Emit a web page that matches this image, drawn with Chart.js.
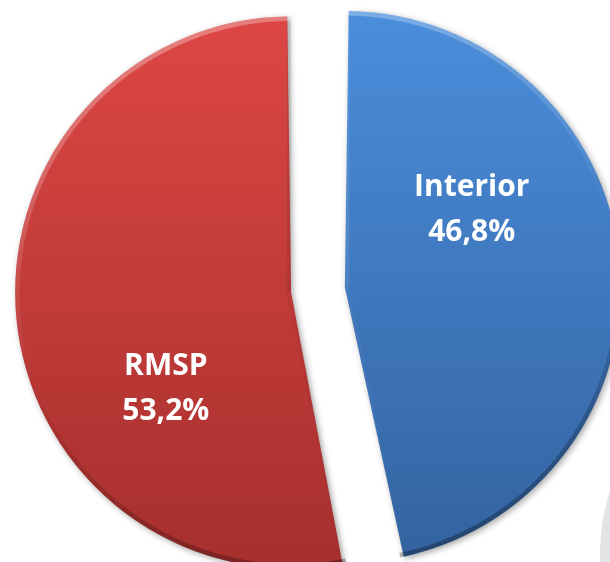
<!DOCTYPE html>
<html>
<head>
<meta charset="utf-8">
<script src="https://cdn.jsdelivr.net/npm/chart.js@4/dist/chart.umd.min.js"></script>
<style>
  html, body { margin: 0; padding: 0; background: #ffffff; }
  #wrap { width: 610px; height: 562px; position: relative; }
</style>
</head>
<body>
<div id="wrap"><canvas id="chart"></canvas></div>
<script>
// data
const regions = ['Interior', 'RMSP'];
const shares = [46.8, 53.2];
const shareLabels = ['46,8%', '53,2%'];

// colours: top / bottom of the vertical shading
const topColors = ['#4b8edc', '#dd4745'];
const bottomColors = ['#33629f', '#a52f2d'];

function sliceFill(context) {
  const chart = context.chart;
  const i = context.dataIndex;
  const g = chart.ctx.createLinearGradient(0, 10, 0, 575);
  g.addColorStop(0, topColors[i]);
  g.addColorStop(1, bottomColors[i]);
  return g;
}

// light grey shape peeking in at the lower right corner
const cornerShape = {
  id: 'cornerShape',
  beforeDraw(chart) {
    const ctx = chart.ctx;
    ctx.save();
    ctx.fillStyle = '#e3e4e6';
    ctx.beginPath();
    ctx.arc(816, 555, 216, 0, Math.PI * 2);
    ctx.fill();
    ctx.restore();
  }
};

// where the arc element really draws an exploded slice
function sliceGeom(arc) {
  const t = (arc.options.offset || 0) / 4;
  const circ = arc.endAngle - arc.startAngle;
  const fix = 1 - Math.sin(Math.min(Math.PI, circ));
  const half = (arc.startAngle + arc.endAngle) / 2;
  return {
    x: arc.x + Math.cos(half) * t,
    y: arc.y + Math.sin(half) * t,
    r: arc.outerRadius + t * fix,
    start: arc.startAngle,
    end: arc.endAngle
  };
}

const LIGHT = { x: -0.29, y: -0.96 };

function edgeColor(nx, ny) {
  const k = nx * LIGHT.x + ny * LIGHT.y;
  if (k >= 0) return 'rgba(255,255,255,' + (0.3 * k).toFixed(3) + ')';
  return 'rgba(0,0,0,' + (0.3 * -k).toFixed(3) + ')';
}

// drop shadow under the slices, then a soft bevel along each edge
const sliceLook = {
  id: 'sliceLook',
  beforeDatasetsDraw(chart) {
    const ctx = chart.ctx;
    ctx.save();
    ctx.shadowColor = 'rgba(0,0,0,0.35)';
    ctx.shadowBlur = 6;
    ctx.shadowOffsetX = 2;
    ctx.shadowOffsetY = 2;
  },
  afterDatasetsDraw(chart) {
    const ctx = chart.ctx;
    ctx.restore();
    chart.getDatasetMeta(0).data.forEach(arc => {
      const g = sliceGeom(arc);
      ctx.save();
      ctx.beginPath();
      ctx.moveTo(g.x, g.y);
      ctx.arc(g.x, g.y, g.r, g.start, g.end);
      ctx.closePath();
      ctx.clip();
      ctx.lineWidth = 9;
      ctx.lineCap = 'butt';
      // curved side: conic gradient keyed on the outward normal
      const cg = ctx.createConicGradient(0, g.x, g.y);
      for (let s = 0; s <= 36; s++) {
        const a = s / 36 * Math.PI * 2;
        cg.addColorStop(s / 36, edgeColor(Math.cos(a), Math.sin(a)));
      }
      ctx.strokeStyle = cg;
      ctx.beginPath();
      ctx.arc(g.x, g.y, g.r, g.start, g.end);
      ctx.stroke();
      // straight sides
      const sides = [[g.start, g.start - Math.PI / 2], [g.end, g.end + Math.PI / 2]];
      sides.forEach(([a, n]) => {
        ctx.strokeStyle = edgeColor(Math.cos(n), Math.sin(n));
        ctx.beginPath();
        ctx.moveTo(g.x, g.y);
        ctx.lineTo(g.x + Math.cos(a) * g.r, g.y + Math.sin(a) * g.r);
        ctx.stroke();
      });
      ctx.restore();
    });
  }
};

const sliceLabels = {
  id: 'sliceLabels',
  afterDraw(chart) {
    const ctx = chart.ctx;
    const arcs = chart.getDatasetMeta(0).data;
    ctx.save();
    ctx.fillStyle = '#ffffff';
    ctx.font = 'bold 30px "Open Sans"';
    ctx.textAlign = 'center';
    ctx.textBaseline = 'middle';
    arcs.forEach((arc, i) => {
      const g = sliceGeom(arc);
      const a = g.start + (g.end - g.start) * 0.34;
      const r = g.r * 0.555;
      const x = g.x + Math.cos(a) * r - 2;
      const y = g.y + Math.sin(a) * r;
      ctx.fillText(regions[i], x, y - 17);
      ctx.fillText(shareLabels[i], x, y + 28);
    });
    ctx.restore();
  }
};

new Chart(document.getElementById('chart'), {
  type: 'pie',
  data: {
    labels: regions,
    datasets: [{
      data: shares,
      backgroundColor: sliceFill,
      borderWidth: 0,
      offset: [120, 96],
      hoverOffset: 0,
      radius: 252,
      clip: false
    }]
  },
  options: {
    responsive: true,
    maintainAspectRatio: false,
    animation: false,
    layout: { padding: { left: 20, right: 0, top: 18, bottom: 0 } },
    plugins: {
      legend: { display: false },
      tooltip: { enabled: false }
    }
  },
  plugins: [cornerShape, sliceLook, sliceLabels]
});
</script>
</body>
</html>
